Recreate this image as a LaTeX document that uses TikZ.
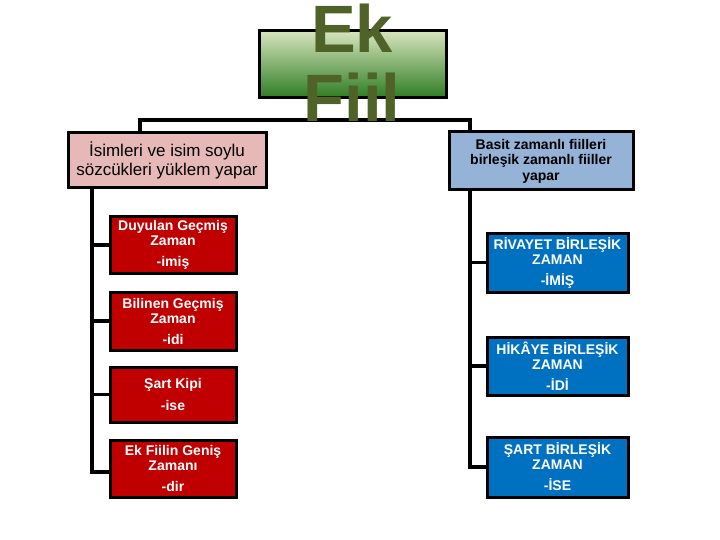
\documentclass[tikz,border=0pt]{standalone}
\usepackage{fontspec}
\setmainfont{Liberation Sans}
\definecolor{myred}{HTML}{C00000}
\definecolor{myblue}{HTML}{0070C0}
\definecolor{mypink}{HTML}{E6B9B8}
\definecolor{mylblue}{HTML}{95B3D7}
\definecolor{gtop}{HTML}{D7E4BD}
\definecolor{gbot}{HTML}{2E7D23}
\definecolor{olive}{HTML}{4F6228}
\begin{document}
\begin{tikzpicture}[x=1pt,y=-1pt,
  box/.style={draw=black, line width=3pt, inner sep=0pt, align=center},
  redbox/.style={box, fill=myred, text=white, minimum width=126pt, font=\fontsize{14}{15}\selectfont\bfseries},
  bluebox/.style={box, fill=myblue, text=white, minimum width=141pt, font=\fontsize{14}{15}\selectfont\bfseries},
  conn/.style={line width=3.5pt}]
\useasboundingbox (0,0) rectangle (720,540);
\node[box, top color=gtop, bottom color=gbot, minimum width=187pt, minimum height=67pt] (top) at (352.5,64.5) {};
\coordinate (barL) at (140,120);
\coordinate (barR) at (470,120);
\node[box, fill=mypink, minimum width=198pt, minimum height=55pt, font=\fontsize{17}{19}\selectfont] (pink) at (167,160.5) {İsimleri ve isim soylu\\sözcükleri yüklem yapar};
\node[box, fill=mylblue, minimum width=184pt, minimum height=58pt, font=\fontsize{14}{15.5}\selectfont\bfseries] (blueh) at (541,161) {Basit zamanlı fiilleri\\birleşik zamanlı fiiller\\yapar};
\draw[conn] (barL |- pink.north) -- (barL) -- (barR) -- (barR |- blueh.north);
\node[anchor=base, text=olive, font=\fontsize{67}{69}\selectfont\bfseries] (ek) at (352,53) {Ek};
\node[anchor=base, text=olive, font=\fontsize{67}{69}\selectfont\bfseries] (fiil) at (352,122) {Fiil};
% red boxes
\node[redbox, minimum height=56pt] (r1) at (173,245) {Duyulan Geçmiş\\Zaman\\[6pt]-imiş};
\node[redbox, minimum height=58pt] (r2) at (173,321) {Bilinen Geçmiş\\Zaman\\[6pt]-idi};
\node[redbox, minimum height=55pt] (r3) at (173,394.5) {Şart Kipi\\[7pt]-ise};
\node[redbox, minimum height=57pt] (r4) at (173,468.5) {Ek Fiilin Geniş\\Zamanı\\[6pt]-dir};
\coordinate (lt) at (92,188);
\coordinate (lb) at (92,472);
\draw[conn] (lt) -- (lb) -- (lb -| r4.west);
\draw[conn] (lt |- r1.west) -- (r1.west);
\draw[conn] (lt |- r2.west) -- (r2.west);
\draw[conn] (lt |- r3.west) -- (r3.west);
% blue boxes
\node[bluebox, minimum height=59pt] (b1) at (557.5,262.5) {RİVAYET BİRLEŞİK\\ZAMAN\\[6pt]-İMİŞ};
\node[bluebox, minimum height=58pt] (b2) at (557.5,366) {HİKÂYE BİRLEŞİK\\ZAMAN\\[6pt]-İDİ};
\node[bluebox, minimum height=60pt] (b3) at (557.5,467) {ŞART BİRLEŞİK\\ZAMAN\\[6pt]-İSE};
\coordinate (rt) at (470,190);
\coordinate (rb) at (470,467);
\draw[conn] (rt) -- (rb) -- (rb -| b3.west);
\draw[conn] (rt |- b1.west) -- (b1.west);
\draw[conn] (rt |- b2.west) -- (b2.west);
\end{tikzpicture}
\end{document}
